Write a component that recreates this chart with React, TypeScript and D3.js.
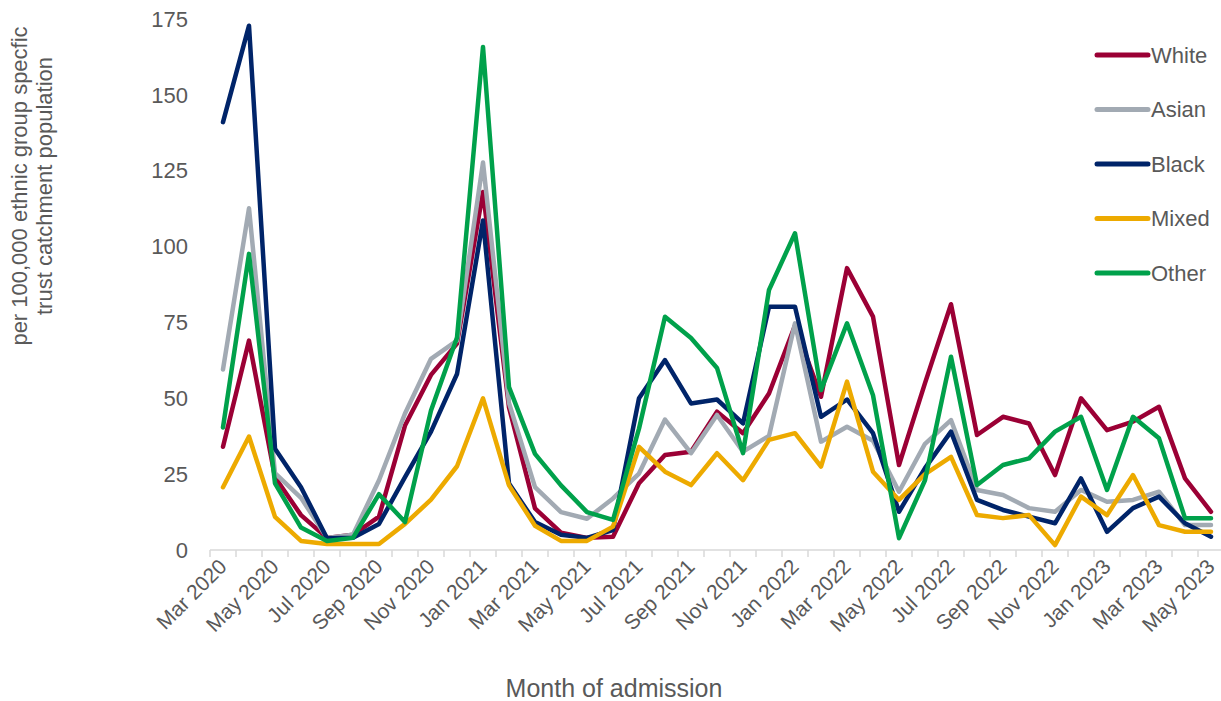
import React from "react";
import * as d3 from "d3";

const months = [
  "Mar 2020", "Apr 2020", "May 2020", "Jun 2020", "Jul 2020", "Aug 2020", "Sep 2020", "Oct 2020", "Nov 2020", "Dec 2020",
  "Jan 2021", "Feb 2021", "Mar 2021", "Apr 2021", "May 2021", "Jun 2021", "Jul 2021", "Aug 2021", "Sep 2021", "Oct 2021",
  "Nov 2021", "Dec 2021", "Jan 2022", "Feb 2022", "Mar 2022", "Apr 2022", "May 2022", "Jun 2022", "Jul 2022", "Aug 2022",
  "Sep 2022", "Oct 2022", "Nov 2022", "Dec 2022", "Jan 2023", "Feb 2023", "Mar 2023", "Apr 2023", "May 2023",
];

const white = [34, 69, 24, 11.5, 4, 5, 11, 41, 57.7, 68, 118, 47, 13.7, 5.7, 4, 4.4, 22, 31.3, 32.4, 45.6, 38.5, 51.6, 74, 50.5, 92.9, 76.9, 28, 55, 81, 37.9, 43.9, 41.7, 24.7, 50, 39.5, 42.3, 47.2, 23.6, 12.6];
const asian = [59.5, 112.6, 25.3, 17.2, 4, 5, 23, 45, 63, 69, 127.7, 48.5, 20.7, 12.5, 10.3, 17, 25.2, 43, 31.9, 44.5, 32.4, 37.6, 74.7, 35.7, 40.6, 36, 19.2, 35, 42.8, 19.8, 18.1, 13.8, 12.6, 19.8, 15.9, 16.5, 19.2, 8.2, 8.2];
const black = [141, 172.8, 33.4, 20.7, 3.9, 4, 8.6, 24, 39, 58, 108.6, 21.9, 9.2, 5, 4, 6.6, 50, 62.6, 48.3, 49.6, 41.7, 80.2, 80.2, 43.9, 49.6, 38.5, 12.6, 27, 39, 16.5, 13.2, 11, 8.8, 23.6, 6, 13.8, 17.6, 8.8, 4.4];
const mixed = [20.7, 37.4, 10.9, 3, 2, 2, 2, 8.6, 16.6, 27.6, 50, 21.3, 8, 3, 3, 7.7, 34, 25.8, 21.4, 31.9, 23, 36.3, 38.5, 27.5, 55.5, 25.8, 16.5, 25, 30.7, 11.5, 10.5, 11.5, 1.6, 17.6, 11.5, 24.7, 8.2, 6, 6];
const other = [40.4, 97.6, 22, 7.4, 3, 4, 18.4, 9.2, 46, 70, 165.8, 53.7, 31.7, 21.3, 12.5, 9.9, 40, 76.9, 69.9, 60, 31.9, 85.7, 104.4, 52.7, 74.7, 51, 3.9, 23, 63.7, 21.4, 28, 30.2, 39, 43.9, 19.8, 43.9, 36.8, 10.5, 10.5];

const seriesNames = ["White", "Asian", "Black", "Mixed", "Other"];
const seriesValues = [white, asian, black, mixed, other];
const colors = ["#9B0035", "#A2AAB3", "#002469", "#EDAA00", "#00A14B"];
const yTicks = [0, 25, 50, 75, 100, 125, 150, 175];

const W = 1221;
const H = 701;
const font = "'Liberation Sans', Arial, sans-serif";

const App: React.FC = () => {
  const x = d3.scaleBand<string>().domain(months).range([210, 1224]);
  const y = d3.scaleLinear().domain([0, 175]).range([550, 19]);
  const cx = (m: string) => (x(m) ?? 0) + x.bandwidth() / 2;
  const line = d3
    .line<number>()
    .x((_, i) => cx(months[i]))
    .y((d) => y(d));

  return (
    <svg width={W} height={H} style={{ position: "absolute", left: 0, top: 0, background: "#fff" }} fontFamily={font}>
      {yTicks.map((t) => (
        <text key={t} x={188} y={y(t)} dy="0.35em" textAnchor="end" fontSize={22} fill="#595959">
          {t}
        </text>
      ))}
      <line x1={210} x2={1224} y1={550} y2={550} stroke="#D9D9D9" strokeWidth={1.5} />
      {months.map((m) => (
        <line key={m} x1={x(m)} x2={x(m)} y1={550} y2={557} stroke="#D9D9D9" strokeWidth={1.5} />
      ))}
      {months.map((m, i) =>
        i % 2 === 0 ? (
          <text
            key={m}
            transform={`translate(${cx(m) + 5},${568}) rotate(-45)`}
            textAnchor="end"
            fontSize={21}
            fill="#595959"
          >
            {m}
          </text>
        ) : null
      )}
      {seriesValues.map((vals, k) => (
        <path key={k} d={line(vals) ?? ""} fill="none" stroke={colors[k]} strokeWidth={4.5} strokeLinejoin="round" strokeLinecap="round" />
      ))}
      {seriesNames.map((n, k) => (
        <g key={n} transform={`translate(1097,${55 + k * 54.5})`}>
          <line x1={0} x2={51} y1={0} y2={0} stroke={colors[k]} strokeWidth={5} strokeLinecap="round" />
          <text x={54} y={0} dy="0.35em" fontSize={22} fill="#595959">
            {n}
          </text>
        </g>
      ))}
      <text transform="translate(27,186) rotate(-90)" textAnchor="middle" fontSize={22} fill="#595959">
        <tspan x={0} dy={0}>per 100,000 ethnic group specfic</tspan>
        <tspan x={0} dy={25}>trust catchment  population</tspan>
      </text>
      <text x={614} y={697} textAnchor="middle" fontSize={25} fill="#595959">
        Month of admission
      </text>
    </svg>
  );
};

export default App;
